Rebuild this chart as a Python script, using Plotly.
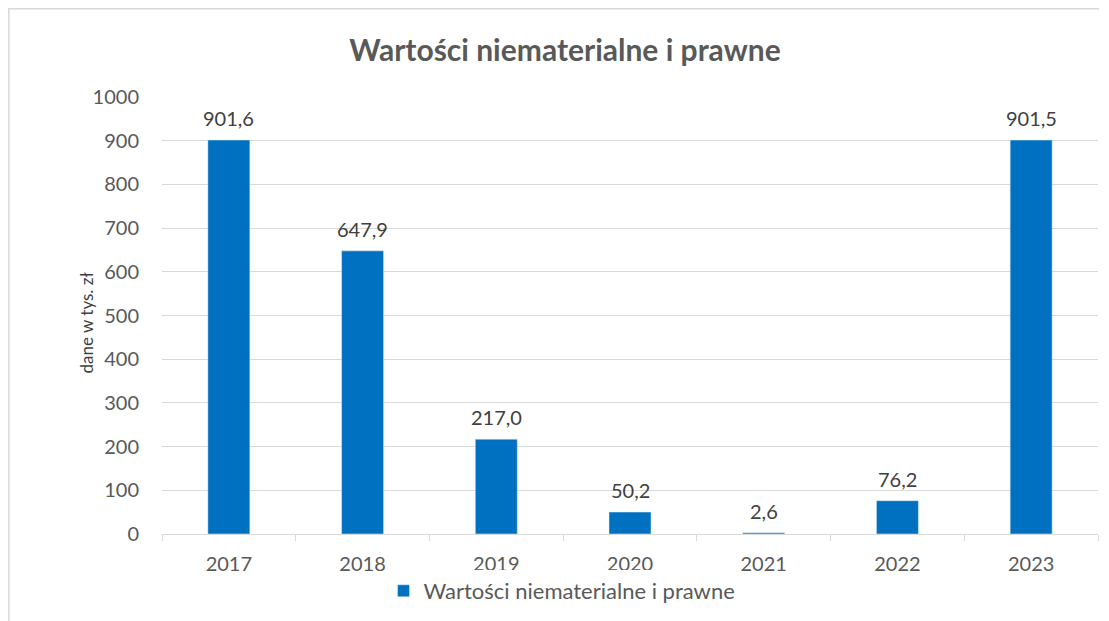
import plotly.graph_objects as go

years = ["2017", "2018", "2019", "2020", "2021", "2022", "2023"]
values = [901.6, 647.9, 217.0, 50.2, 2.6, 76.2, 901.5]
series_name = "Wartości niematerialne i prawne"
labels = [f"{v:.1f}".replace(".", ",") for v in values]

# page offset of the figure div (browser body margin)
OFF = 8
W, H = 1109 - OFF, 621 - OFF
# plot area in page pixels
PL, PR, PT, PB = 162, 1098, 97, 534
L, R, T, B = PL - OFF, (1109 - OFF) - (PR - OFF), PT - OFF, H - (PB - OFF)
pw, ph = PR - PL, PB - PT

def px(x):  # page pixel -> paper x
    return (x - PL) / pw

def py(y):  # page pixel -> paper y
    return (PB - y) / ph

font = "Lato, 'Open Sans', sans-serif"

fig = go.Figure(go.Bar(
    x=years, y=values, name=series_name,
    marker_color="#0070C0",
    showlegend=True,
))

# category index positions on the category axis
label_anns = [
    dict(x=i, y=v, xref="x", yref="y", text=t, showarrow=False,
         yanchor="middle", yshift=22, font=dict(size=20, color="#404040", family=font))
    for i, (v, t) in enumerate(zip(values, labels))
]

fig.update_layout(
    width=W, height=H,
    margin=dict(l=L, r=R, t=T, b=B, autoexpand=False),
    paper_bgcolor="white", plot_bgcolor="white",
    bargap=0.686,
    font=dict(family=font, color="#595959"),
    title=dict(text="<b>Wartości niematerialne i prawne</b>", x=(565 - OFF) / W, xanchor="center",
               y=1 - (50 - OFF) / H, yanchor="middle",
               font=dict(size=30, color="#595959", family=font)),
    xaxis=dict(type="category", showgrid=False, showline=True, linecolor="#d9d9d9", linewidth=1,
               ticks="outside", tickson="boundaries", ticklen=6, tickcolor="#d9d9d9",
               ticklabelstandoff=12,
               tickfont=dict(size=20, color="#595959"), zeroline=False),
    yaxis=dict(range=[0, 1000], dtick=100, showgrid=True, gridcolor="#d9d9d9", gridwidth=1,
               zeroline=False, showline=False, ticks="", ticklabelstandoff=22,
               tickfont=dict(size=20, color="#595959")),
    legend=dict(orientation="h", x=px(562), xanchor="center", y=py(591), yanchor="middle",
                font=dict(size=22, color="#595959"), itemwidth=30),
    annotations=label_anns + [
        dict(text="dane w tys. zł", x=px(73), y=py(323), xref="paper", yref="paper",
             textangle=-90, showarrow=False, font=dict(size=17, color="#404040")),
        dict(text="Wykres 1.2", x=px(8), y=py(-6), xref="paper", yref="paper",
             xanchor="left", yanchor="middle", showarrow=False,
             font=dict(size=20, color="#000000")),
    ],
    shapes=[
        dict(type="line", xref="paper", yref="paper", x0=px(8.8), x1=px(8.8), y0=py(8.5), y1=py(640),
             line=dict(color="#d9d9d9", width=1.5)),
        dict(type="line", xref="paper", yref="paper", x0=px(8), x1=px(1099), y0=py(8.8), y1=py(8.8),
             line=dict(color="#d9d9d9", width=1.5)),
    ],
)

fig.write_html("out.html")
